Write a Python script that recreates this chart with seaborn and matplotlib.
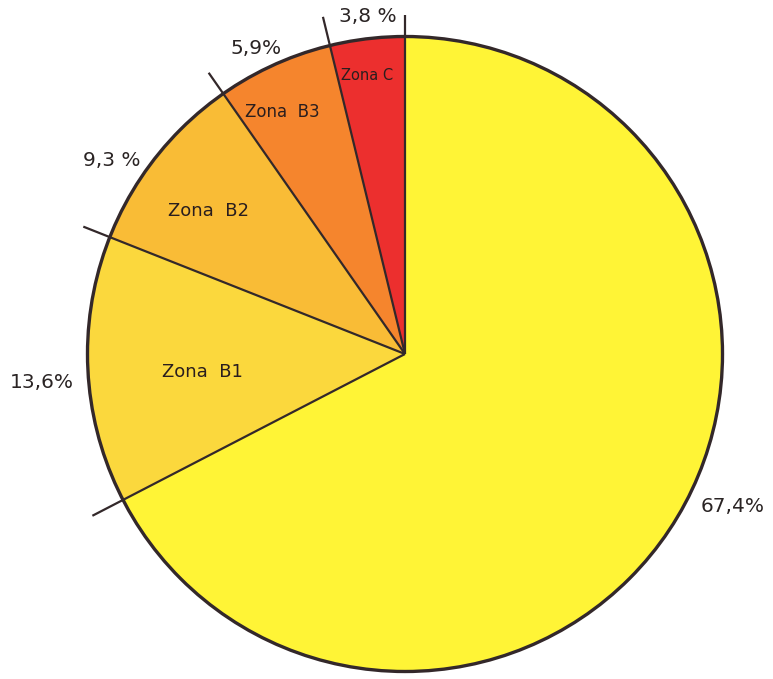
import numpy as np
import matplotlib
matplotlib.use("Agg")
import matplotlib.pyplot as plt
from matplotlib.patches import Circle
import seaborn as sns

# Share of territory by seismic zone (counter-clockwise from the top)
zones = ["Zona C", "Zona  B3", "Zona  B2", "Zona  B1", ""]
shares = [3.8, 5.9, 9.3, 13.6, 67.4]
pct_labels = ["3,8 %", "5,9%", "9,3 %", "13,6%", "67,4%"]
colors = ["#EC2F2E", "#F5852D", "#F9BC36", "#FBD83D", "#FFF436"]

sns.set_theme(style="white")
plt.rcParams["font.family"] = ["DejaVu Sans"]

W, H = 773, 679
fig = plt.figure(figsize=(W / 100, H / 100), dpi=100)
ax = fig.add_axes([0, 0, 1, 1])

cx, cy, r = 405, 325, 317.5
ink = "#33282A"

ax.pie(shares, colors=colors, startangle=90, counterclock=True,
       center=(cx, cy), radius=r, frame=True,
       wedgeprops=dict(linewidth=0))
ax.set_xlim(0, W)
ax.set_ylim(0, H)
ax.set_aspect("equal")
ax.axis("off")

# outline of the disc
ax.add_patch(Circle((cx, cy), r, fill=False, edgecolor=ink, linewidth=2.4, zorder=5))

# dividers running from the centre past the rim
bounds = 90 + 3.6 * np.concatenate([[0], np.cumsum(shares[:-1])])
ext = [339, 347, 343, 346, 352]
for a, e in zip(bounds, ext):
    t = np.deg2rad(a)
    ax.plot([cx, cx + e * np.cos(t)], [cy, cy + e * np.sin(t)],
            color=ink, linewidth=1.6, solid_capstyle="butt", zorder=6)

# zone names inside the wedges
zone_pos = [(367, H - 76), (282, H - 112), (209, H - 211), (202, H - 372)]
zone_sizes = [10.5, 12, 13, 13]
for name, (x, y), fs in zip(zones[:4], zone_pos, zone_sizes):
    ax.text(x, y, name, ha="center", va="center", fontsize=fs,
            color="#2A1E1E", zorder=7)

# percentages outside the rim
pct_pos = [(368, H - 17), (256, H - 48), (112, H - 160), (42, H - 382), (733, H - 507)]
for lab, (x, y) in zip(pct_labels, pct_pos):
    ax.text(x, y, lab, ha="center", va="center", fontsize=14.5,
            color="#2A2424", zorder=7)

fig.savefig("out.png", dpi=100, facecolor="white")
